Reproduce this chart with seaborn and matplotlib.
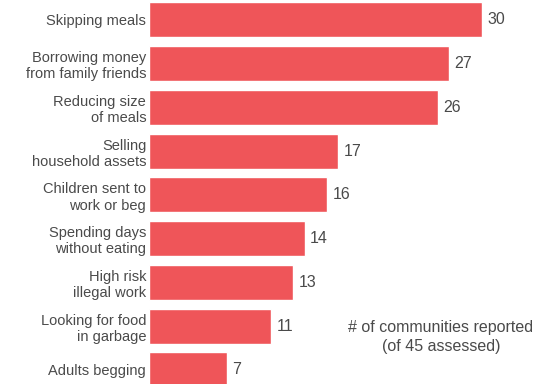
import matplotlib
matplotlib.use("Agg")
import matplotlib.pyplot as plt
import seaborn as sns
import pandas as pd

estrategias = [
    "Skipping meals",
    "Borrowing money\nfrom family friends",
    "Reducing size\nof meals",
    "Selling\nhousehold assets",
    "Children sent to\nwork or beg",
    "Spending days\nwithout eating",
    "High risk\nillegal work",
    "Looking for food\nin garbage",
    "Adults begging",
]
comunidades = [30, 27, 26, 17, 16, 14, 13, 11, 7]

cor_barra = "#EF5559"
cor_texto = "#4a4a4a"

sns.set_theme(style="white")
plt.rcParams["font.family"] = ["Liberation Sans", "DejaVu Sans"]

dados = pd.DataFrame({"Estrategia": estrategias, "Comunidades": comunidades})

fig = plt.figure(figsize=(5.39, 3.84), dpi=100)
ax = fig.add_axes([149 / 539, 0, 1 - 149 / 539, 1])

sns.barplot(data=dados, x="Comunidades", y="Estrategia", orient="h",
            color=cor_barra, saturation=1, width=0.8, ax=ax)

ax.set_xlim(0, 35.1)
ax.set_ylim(8.32, -0.457)
ax.bar_label(ax.containers[0], fmt="%d", padding=4, fontsize=11.5, color=cor_texto)

ax.set_xlabel("")
ax.set_ylabel("")
ax.set_xticks([])
ax.tick_params(axis="y", length=0, pad=2, labelsize=10.5, labelcolor=cor_texto)
sns.despine(ax=ax, left=True, bottom=True)

ax.text(441 / 539, 0.122, "# of communities reported\n(of 45 assessed)",
        transform=fig.transFigure, ha="center", va="center",
        fontsize=11.5, color=cor_texto, linespacing=1.3)

plt.savefig("out.png", dpi=100)
